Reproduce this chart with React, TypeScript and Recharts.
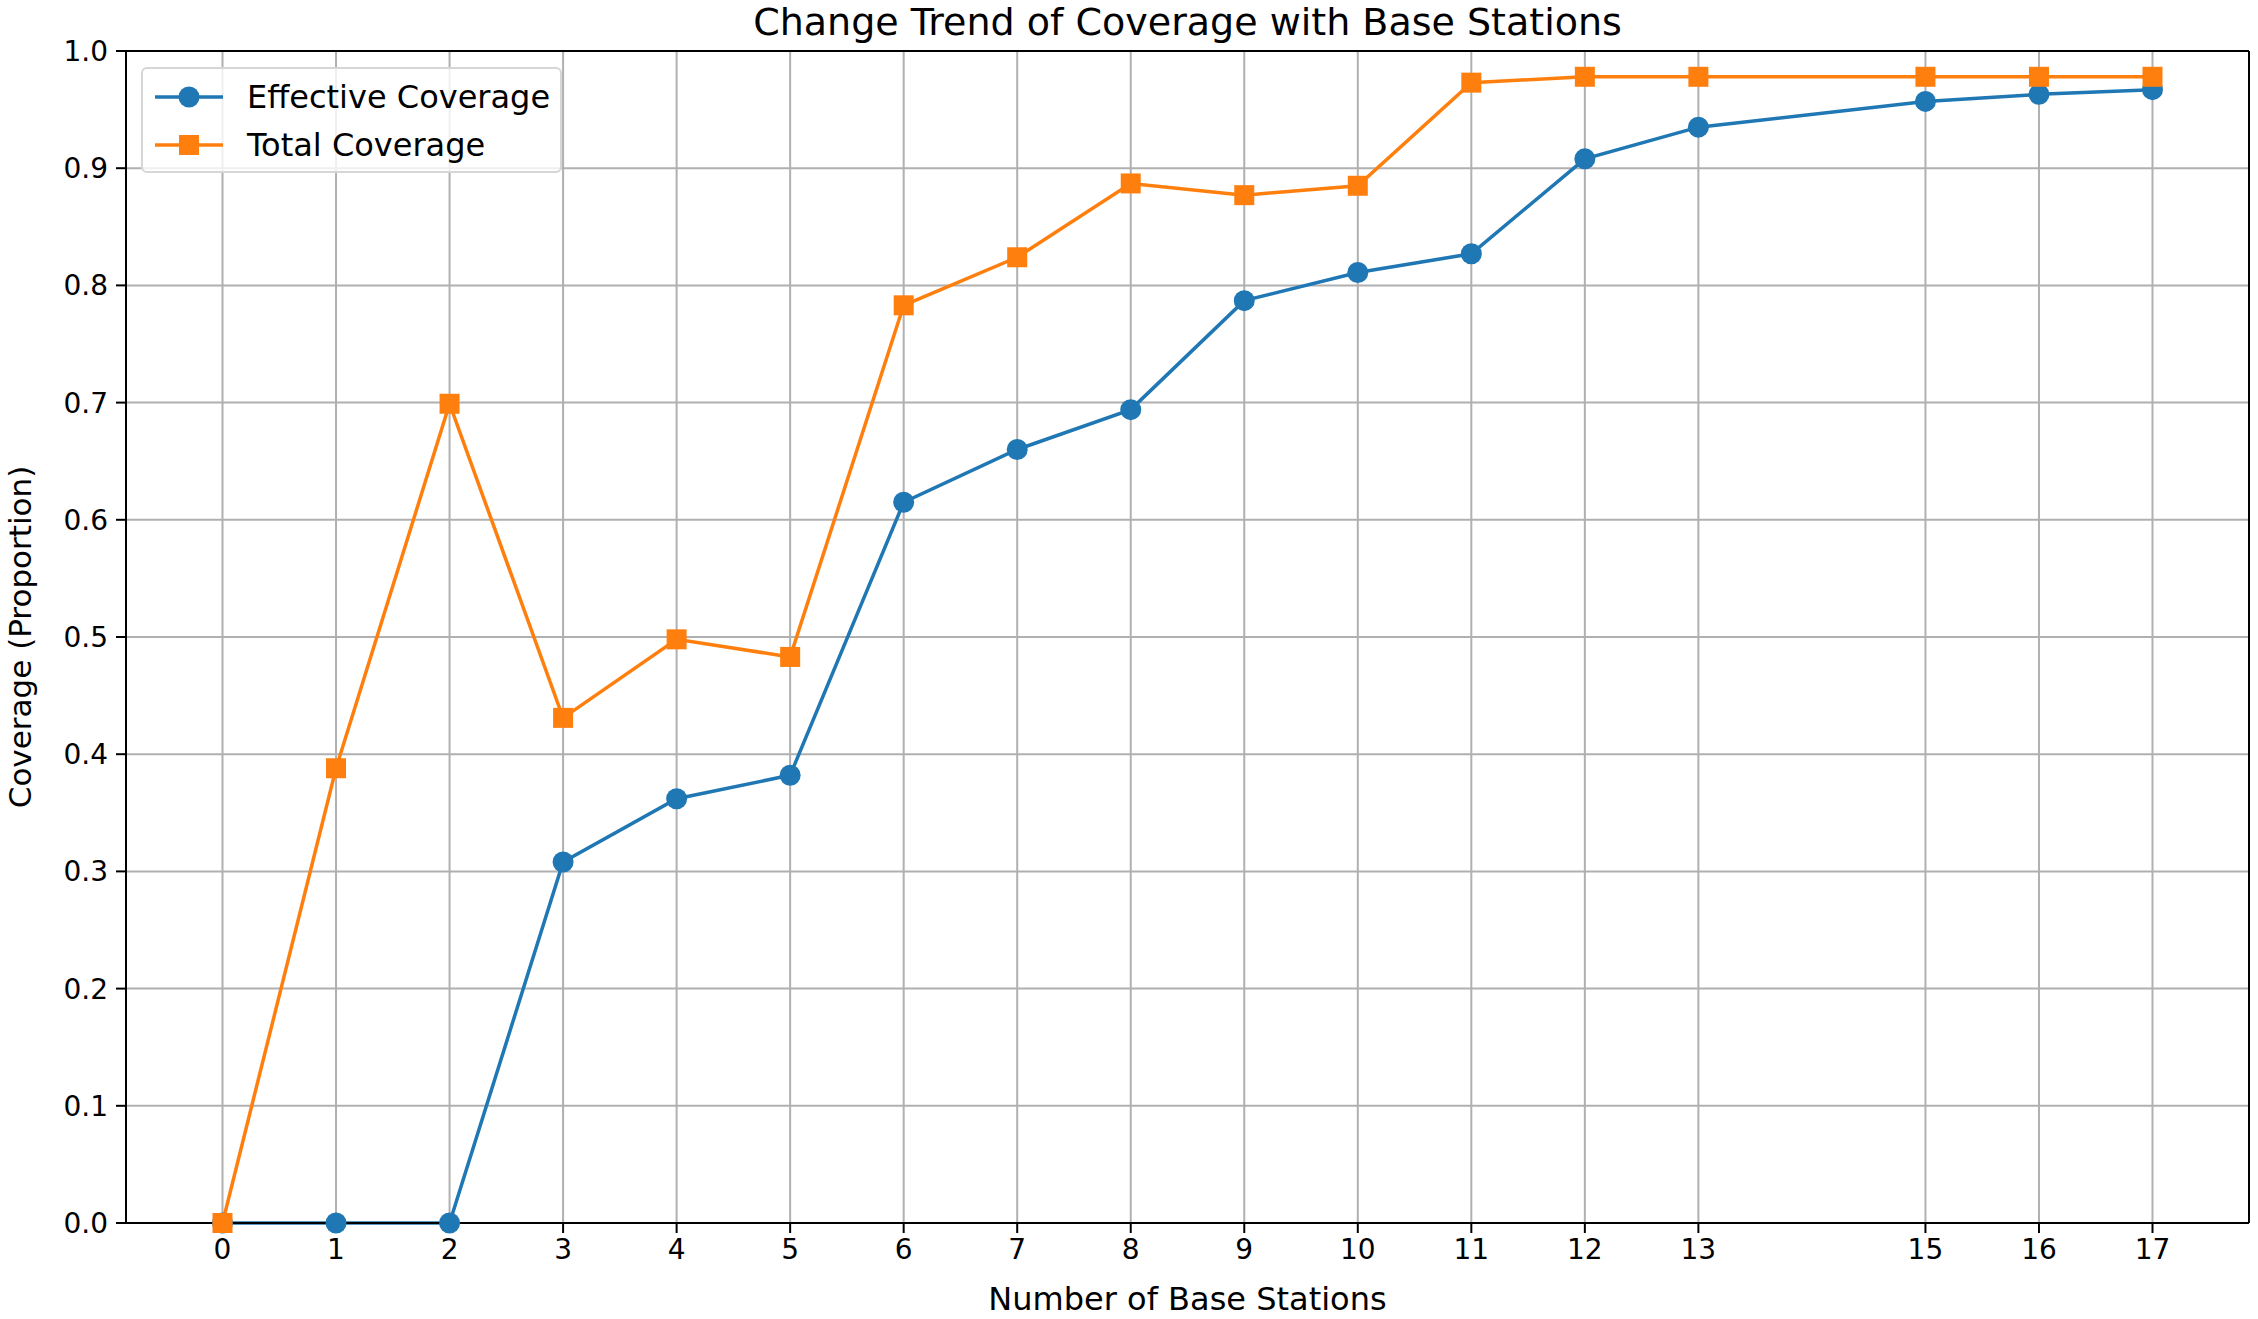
import React from "react";
import {
  LineChart,
  Line,
  XAxis,
  YAxis,
  CartesianGrid,
  Legend,
  ReferenceLine,
} from "recharts";

const stations = [0, 1, 2, 3, 4, 5, 6, 7, 8, 9, 10, 11, 12, 13, 15, 16, 17];
const effectiveCoverage = [
  0, 0, 0, 0.308, 0.362, 0.382, 0.615, 0.66, 0.694, 0.787, 0.811, 0.827, 0.908,
  0.935, 0.957, 0.963, 0.967,
];
const totalCoverage = [
  0, 0.388, 0.699, 0.431, 0.498, 0.483, 0.783, 0.824, 0.887, 0.877, 0.885,
  0.973, 0.978, 0.978, 0.978, 0.978, 0.978,
];
const yTicks = [0, 0.1, 0.2, 0.3, 0.4, 0.5, 0.6, 0.7, 0.8, 0.9, 1.0];

const data = stations.map((n, i) => ({
  n,
  effective: effectiveCoverage[i],
  total: totalCoverage[i],
}));

const BLUE = "#1f77b4";
const ORANGE = "#ff7f0e";
const FONT = "'DejaVu Sans', sans-serif";
const X_MIN = -0.85;
const X_MAX = 17.85;

const SquareDot = (props: any) => {
  const { cx, cy, index } = props;
  if (cx == null || cy == null) return <g key={index} />;
  return (
    <rect
      key={index}
      x={cx - 10}
      y={cy - 10}
      width={20}
      height={20}
      fill={ORANGE}
      stroke={ORANGE}
      strokeWidth={0}
    />
  );
};

const renderLegend = () => {
  const rows = [
    { label: "Effective Coverage", color: BLUE, shape: "circle" },
    { label: "Total Coverage", color: ORANGE, shape: "square" },
  ];
  return (
    <div
      style={{
        border: "2px solid #d6d6d6",
        borderRadius: 6,
        background: "rgba(255,255,255,0.8)",
        padding: "4px 0 6px 0",
        fontFamily: FONT,
        fontSize: 32,
        boxSizing: "border-box",
        width: 421,
        height: 106,
      }}
    >
      {rows.map((r) => (
        <div
          key={r.label}
          style={{ display: "flex", alignItems: "center", height: 48 }}
        >
          <svg width={104} height={48} style={{ flex: "none" }}>
            <line x1={12} x2={80} y1={24} y2={24} stroke={r.color} strokeWidth={3.5} />
            {r.shape === "circle" ? (
              <circle cx={46} cy={24} r={10.5} fill={r.color} />
            ) : (
              <rect x={36} y={14} width={20} height={20} fill={r.color} />
            )}
          </svg>
          <span style={{ color: "#000", whiteSpace: "nowrap" }}>{r.label}</span>
        </div>
      ))}
    </div>
  );
};

const YLabel = (props: any) => {
  const { viewBox } = props;
  const cx = viewBox.x + 20;
  const cy = viewBox.y + viewBox.height / 2;
  return (
    <text
      x={cx}
      y={cy}
      transform={`rotate(-90, ${cx}, ${cy})`}
      textAnchor="middle"
      dominantBaseline="central"
      fontFamily={FONT}
      fontSize={31}
      fill="#000"
    >
      Coverage (Proportion)
    </text>
  );
};

const App = () => {
  return (
    <div
      style={{
        position: "absolute",
        left: 0,
        top: 0,
        width: 2258,
        height: 1319,
        background: "#fff",
      }}
    >
      <div
        style={{
          position: "absolute",
          left: 126,
          width: 2123,
          top: 0,
          textAlign: "center",
          fontFamily: FONT,
          fontSize: 38,
          lineHeight: "44px",
          color: "#000",
        }}
      >
        Change Trend of Coverage with Base Stations
      </div>
      <LineChart
        width={2258}
        height={1319}
        data={data}
        margin={{ top: 51, right: 9, bottom: 0, left: 0 }}
      >
        <CartesianGrid stroke="#b0b0b0" strokeWidth={2} />
        <XAxis
          dataKey="n"
          type="number"
          domain={[X_MIN, X_MAX]}
          ticks={stations}
          interval={0}
          allowDataOverflow
          height={96}
          tickSize={10}
          tickMargin={6}
          axisLine={{ stroke: "#000", strokeWidth: 2 }}
          tickLine={{ stroke: "#000", strokeWidth: 2 }}
          tick={{ fill: "#000", fontSize: 28, fontFamily: FONT }}
          label={{
            value: "Number of Base Stations",
            position: "insideBottom",
            offset: 9,
            fill: "#000",
            fontSize: 32,
            fontFamily: FONT,
          }}
        />
        <YAxis
          type="number"
          domain={[0, 1]}
          ticks={yTicks}
          interval={0}
          width={126}
          tickSize={10}
          tickMargin={8}
          tickFormatter={(v: number) => v.toFixed(1)}
          axisLine={{ stroke: "#000", strokeWidth: 2 }}
          tickLine={{ stroke: "#000", strokeWidth: 2 }}
          tick={{ fill: "#000", fontSize: 28, fontFamily: FONT }}
          label={<YLabel />}
        />
        <ReferenceLine y={1} stroke="#000" strokeWidth={2} />
        <ReferenceLine x={X_MAX} stroke="#000" strokeWidth={2} />
        <Legend
          layout="vertical"
          align="center"
          verticalAlign="middle"
          content={renderLegend}
          wrapperStyle={{ top: 67, left: 141, width: 421, height: 106 }}
        />
        <Line
          type="linear"
          dataKey="effective"
          stroke={BLUE}
          strokeWidth={3.5}
          dot={{ r: 10.5, fill: BLUE, stroke: BLUE, strokeWidth: 0 }}
          activeDot={false}
          isAnimationActive={false}
        />
        <Line
          type="linear"
          dataKey="total"
          stroke={ORANGE}
          strokeWidth={3.5}
          dot={SquareDot}
          activeDot={false}
          isAnimationActive={false}
        />
      </LineChart>
    </div>
  );
};

export default App;
